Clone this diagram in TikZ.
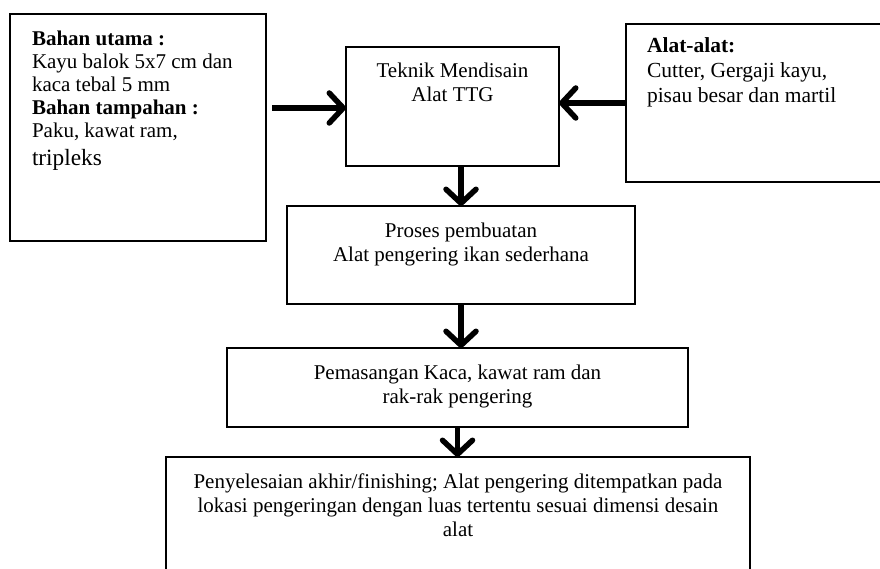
\documentclass[tikz,border=0pt]{standalone}
\usepackage{fontspec}
\setmainfont{Liberation Serif}
\usetikzlibrary{arrows.meta}
\begin{document}
\begin{tikzpicture}[x=1pt,y=-1pt,
  flowbox/.style={draw, line width=1.3pt, inner sep=0pt, outer sep=0pt, anchor=north west, font=\fontsize{21}{24}\selectfont},
  bigarrow/.style={line width=5.5pt, -{Straight Barb[length=14pt,width=30pt,round]}}]
\useasboundingbox (0,0) rectangle (880,569);
\fill[white] (0,0) rectangle (880,569);
\begin{scope}
\clip (0,0) rectangle (880,569);
\node[flowbox] (bahan) at (10,14) {\parbox[t][227pt][t]{256pt}{\leftskip=22pt\fontsize{21}{23}\selectfont\rule{0pt}{32pt}\textbf{Bahan utama :}\par Kayu balok 5x7 cm dan\par kaca tebal 5 mm\par \textbf{Bahan tampahan :}\par Paku, kawat ram,\par {\fontsize{23.3}{27.4}\selectfont tripleks\par}}};
\node[flowbox] (alat) at (626,24) {\parbox[t][158pt][t]{290pt}{\leftskip=21pt\fontsize{21.5}{24.7}\selectfont\rule{0pt}{29pt}\textbf{Alat-alat:}\par Cutter, Gergaji kayu,\par pisau besar dan martil}};
\node[flowbox] (tek) at (346,47) {\parbox[t][119pt][t]{213pt}{\centering\rule{0pt}{31pt}Teknik Mendisain\par Alat TTG\par}};
\node[flowbox] (proses) at (287,206) {\parbox[t][98pt][t]{348pt}{\centering\rule{0pt}{32pt}Proses pembuatan\par Alat pengering ikan sederhana\par}};
\node[flowbox] (pem) at (227,348) {\parbox[t][79pt][t]{461pt}{\centering\rule{0pt}{31pt}Pemasangan Kaca, kawat ram dan\par rak-rak pengering\par}};
\node[flowbox] (final) at (166,457) {\parbox[t][130pt][t]{584pt}{\centering\rule{0pt}{31pt}Penyelesaian akhir/finishing; Alat pengering ditempatkan pada\par lokasi pengeringan dengan luas tertentu sesuai dimensi desain\par alat\par}};
\coordinate (la) at (272,108);
\draw[bigarrow] (la) -- (la -| tek.west);
\draw[bigarrow] (alat.west) -- (alat.west -| tek.east);
\draw[bigarrow] (tek.south -| proses.north) -- (proses.north);
\draw[bigarrow] (proses.south) -- (proses.south |- pem.north);
\draw[bigarrow] (pem.south) -- (pem.south |- final.north);
\end{scope}
\end{tikzpicture}
\end{document}
